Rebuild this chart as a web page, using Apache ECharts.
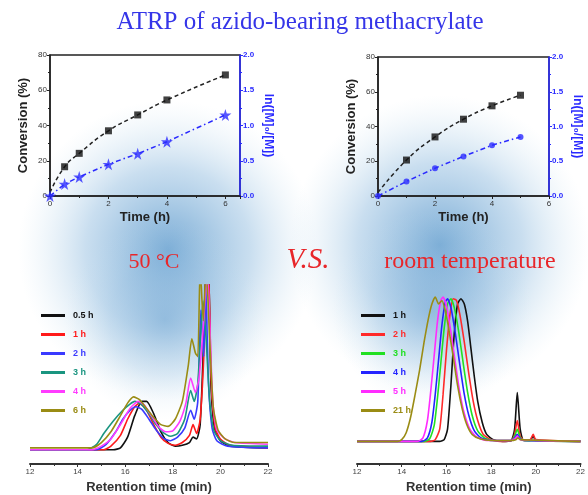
<!DOCTYPE html>
<html>
<head>
<meta charset="utf-8">
<script src="https://cdn.jsdelivr.net/npm/echarts@6/dist/echarts.min.js"></script>
<style>
  html, body { margin: 0; padding: 0; background: #fff; }
  #main { width: 588px; height: 495px; }
</style>
</head>
<body>
<div id="main"></div>
<script>
// kinetics, 50 C
const hotTime = [0.5, 1, 2, 3, 4, 6];
const hotConversion = [16.6, 24.2, 37, 46, 54.5, 68.7];
const hotLnRatio = [0.17, 0.27, 0.45, 0.6, 0.77, 1.15];
// kinetics, room temperature
const rtTime = [1, 2, 3, 4, 5];
const rtConversion = [20.7, 34, 44.2, 51.9, 58];
const rtLnRatio = [0.21, 0.4, 0.57, 0.73, 0.85];

// GPC traces, 50 C  [retention time, intensity]
const hotNames = ["0.5 h", "1 h", "2 h", "3 h", "4 h", "6 h"];
const hotColors = ["#111111", "#ff1a1a", "#3a3aff", "#1a9580", "#ff3cff", "#9a8c14"];
const hot05h = [[12,8],[15.5,8],[15.8,9],[16.1,15],[16.4,27],[16.7,35],[16.9,35],[17.2,28],[17.5,18],[17.8,12],[18.1,10],[18.4,10.5],[18.7,12],[18.85,15],[19.0,14],[19.15,22],[19.3,70],[19.4,110],[19.5,110],[19.6,45],[19.75,20],[20.0,13],[20.4,10],[22,9]];
const hot1h = [[12,8],[15.1,8],[15.4,10],[15.8,16],[16.1,25],[16.4,32],[16.6,34],[16.9,30],[17.2,22],[17.5,15],[17.8,11.5],[18.1,10.5],[18.4,12],[18.7,16],[18.85,22],[19.0,17],[19.15,25],[19.3,60],[19.42,110],[19.52,100],[19.62,45],[19.78,20],[20.0,14],[20.4,10.5],[22,9]];
const hot2h = [[12,8],[14.8,8],[15.2,11],[15.6,18],[15.9,25],[16.2,30],[16.45,32],[16.7,30.5],[17.0,25],[17.3,19],[17.6,14.5],[17.9,13],[18.2,15],[18.5,20],[18.75,30],[18.9,25],[19.05,35],[19.18,86],[19.3,60],[19.38,100],[19.5,45],[19.65,20],[19.85,13],[20.3,10],[22,9]];
const hot3h = [[12,8],[14.4,8],[14.8,11],[15.1,17],[15.5,24],[15.9,30],[16.2,33.5],[16.4,35],[16.7,33],[17.0,28],[17.3,22],[17.6,17.5],[17.9,15.5],[18.2,17],[18.5,25],[18.75,41],[18.9,35],[19.05,45],[19.27,91],[19.4,70],[19.55,35],[19.72,19],[20.0,13],[20.5,10.5],[22,10]];
const hot4h = [[12,8],[14.6,8],[15.0,10],[15.4,14],[15.8,22],[16.2,31],[16.55,35],[16.8,33],[17.1,27],[17.4,21],[17.7,18],[18.0,18.5],[18.3,24],[18.55,34],[18.75,48],[18.95,40],[19.1,48],[19.3,80],[19.45,110],[19.55,80],[19.68,35],[19.85,19],[20.2,14],[20.6,12],[22,11]];
const hot6h = [[12,9],[14.6,9],[15.0,12],[15.4,18],[15.8,27],[16.1,34],[16.35,37.5],[16.6,36],[16.9,31],[17.2,26],[17.5,22],[17.8,21],[18.1,25],[18.4,35],[18.65,55],[18.8,70],[18.95,62],[19.05,60],[19.15,110],[19.28,80],[19.4,110],[19.55,70],[19.7,32],[19.9,19],[20.2,14],[20.6,12],[22,12]];
const hotTraces = [hot05h, hot1h, hot2h, hot3h, hot4h, hot6h];

// GPC traces, room temperature
const rtNames = ["1 h", "2 h", "3 h", "4 h", "5 h", "21 h"];
const rtColors = ["#111111", "#ff2a2a", "#22e022", "#2424ff", "#ff2cff", "#9a8c14"];
const rt1h = [[12,13],[15.7,13],[15.9,14],[16.05,20],[16.2,45],[16.35,75],[16.5,92],[16.65,95],[16.8,92],[16.95,82],[17.1,66],[17.25,50],[17.4,36],[17.6,24],[17.8,17],[18.1,14],[18.5,13],[18.9,13.5],[19.05,20],[19.17,41],[19.3,20],[19.45,13.5],[19.75,13.5],[19.88,16],[20.0,13.5],[22,13]];
const rt2h = [[12,13],[15.3,13],[15.5,14],[15.7,20],[15.85,40],[16.0,65],[16.15,85],[16.3,95],[16.45,94],[16.6,86],[16.8,70],[17.0,52],[17.2,36],[17.4,25],[17.65,17],[18.0,14],[18.4,13],[18.9,13.5],[19.05,17],[19.17,25],[19.3,16],[19.5,13.5],[19.75,14],[19.88,17],[20.0,14],[22,13]];
const rt3h = [[12,13],[15.0,13],[15.25,14.5],[15.45,22],[15.6,38],[15.75,58],[15.9,78],[16.05,92],[16.2,95],[16.35,90],[16.55,76],[16.75,58],[16.95,41],[17.15,28],[17.4,19],[17.7,15],[18.1,13.5],[18.9,13.5],[19.05,16],[19.17,20],[19.3,15],[19.5,13.5],[22,13]];
const rt4h = [[12,13],[14.9,13],[15.15,15],[15.35,24],[15.5,40],[15.65,60],[15.8,80],[15.95,93],[16.05,95],[16.2,90],[16.4,75],[16.6,57],[16.8,40],[17.0,28],[17.25,19],[17.55,15],[18.0,13.5],[18.9,13.5],[19.05,15],[19.17,17],[19.3,14.5],[19.5,13.5],[22,13]];
const rt5h = [[12,13],[14.7,13],[14.95,15],[15.15,25],[15.3,42],[15.45,62],[15.6,82],[15.75,94],[15.85,96],[16.0,91],[16.2,76],[16.4,58],[16.6,41],[16.8,29],[17.05,20],[17.35,15.5],[17.8,13.5],[18.9,13.5],[19.05,14.5],[19.17,16],[19.3,14],[22,13]];
const rt21h = [[12,13],[13.8,13],[14.0,14],[14.2,18],[14.4,27],[14.6,40],[14.8,54],[15.0,70],[15.2,84],[15.35,92],[15.5,96],[15.65,92],[15.8,94],[15.95,88],[16.1,78],[16.3,62],[16.5,45],[16.7,32],[16.9,23],[17.15,17],[17.5,14.5],[18.0,13.5],[18.9,13.5],[19.1,14],[19.2,15],[19.3,14],[22,13]];
const rtTraces = [rt1h, rt2h, rt3h, rt4h, rt5h, rt21h];

const starPath = "path://M50,0 L61,35 L98,35 L68,57 L79,91 L50,70 L21,91 L32,57 L2,35 L39,35 Z";
const inkBlue = "#2a2aff";

const chart = echarts.init(document.getElementById("main"));

function glow(cx, cy, w, h, a) {
  return {
    type: "rect", z: -10, silent: true,
    shape: { x: cx - w / 2, y: cy - h / 2, width: w, height: h },
    style: {
      fill: {
        type: "radial", x: 0.5, y: 0.5, r: 0.5,
        colorStops: [
          { offset: 0, color: "rgba(95,155,205," + a + ")" },
          { offset: 0.55, color: "rgba(140,185,222," + a * 0.55 + ")" },
          { offset: 1, color: "rgba(200,225,240,0)" }
        ]
      }
    }
  };
}

function label(text, x, y, font, color) {
  return {
    type: "text", z: 10, x: x, y: y,
    style: { text: text, font: font, fill: color, align: "center", verticalAlign: "middle", textAlign: "center", textVerticalAlign: "middle" }
  };
}

// kinetic plot axes
function timeAxis(gridIndex, max) {
  return {
    type: "value", gridIndex: gridIndex, min: 0, max: max, interval: 2,
    name: "Time (h)", nameLocation: "middle", nameGap: 15,
    nameTextStyle: { fontSize: 13, fontWeight: "bold", color: "#222", fontFamily: "Liberation Sans" },
    axisLine: { lineStyle: { color: "#222", width: 1.5 } },
    axisTick: { length: 3, lineStyle: { color: "#222" } },
    minorTick: { show: true, splitNumber: 2, length: 2, lineStyle: { color: "#222" } },
    axisLabel: { fontSize: 8, color: "#333", margin: 4, formatter: v => (v % 2 === 0 ? v : "") },
    splitLine: { show: false }
  };
}
function convAxis(gridIndex) {
  return {
    type: "value", gridIndex: gridIndex, position: "left", min: 0, max: 80, interval: 20,
    name: "Conversion (%)", nameLocation: "middle", nameGap: 20, nameRotate: 90,
    nameTextStyle: { fontSize: 13, fontWeight: "bold", color: "#222", fontFamily: "Liberation Sans" },
    axisLine: { show: true, lineStyle: { color: "#222", width: 1.5 } },
    axisTick: { show: true, length: 3, lineStyle: { color: "#222" } },
    minorTick: { show: true, splitNumber: 2, length: 2, lineStyle: { color: "#222" } },
    axisLabel: { fontSize: 8, color: "#333", margin: 3 },
    splitLine: { show: false }
  };
}
function lnAxis(gridIndex) {
  return {
    type: "value", gridIndex: gridIndex, position: "right", min: 0, max: 2, interval: 0.5,
    name: "ln([M]\u2080/[M])", nameLocation: "middle", nameGap: 22, nameRotate: -90,
    nameTextStyle: { fontSize: 12, fontWeight: "bold", color: inkBlue, fontFamily: "Liberation Sans" },
    axisLine: { show: true, lineStyle: { color: inkBlue, width: 1.5 } },
    axisTick: { show: true, length: 3, lineStyle: { color: inkBlue } },
    minorTick: { show: true, splitNumber: 2, length: 2, lineStyle: { color: inkBlue } },
    axisLabel: { fontSize: 8, fontWeight: "bold", color: inkBlue, margin: 3, formatter: v => v.toFixed(1) },
    splitLine: { show: false }
  };
}
function gpcAxis(gridIndex) {
  return {
    type: "value", gridIndex: gridIndex, min: 12, max: 22, interval: 2,
    name: "Retention time (min)", nameLocation: "middle", nameGap: 17,
    nameTextStyle: { fontSize: 13, fontWeight: "bold", color: "#333", fontFamily: "Liberation Sans" },
    axisLine: { lineStyle: { color: "#333", width: 2 } },
    axisTick: { length: 3, lineStyle: { color: "#333" } },
    minorTick: { show: true, splitNumber: 2, length: 2, lineStyle: { color: "#333" } },
    axisLabel: { fontSize: 8, color: "#444", margin: 4 },
    splitLine: { show: false }
  };
}
function hiddenY(gridIndex) {
  return { type: "value", gridIndex: gridIndex, min: 0, max: 100, show: false, splitLine: { show: false } };
}

function kineticSeries(times, conv, ln, xi, yl, yr, blueSymbol, blueSize) {
  return [
    {
      type: "line", xAxisIndex: xi, yAxisIndex: yl, smooth: true, symbol: "none",
      data: [[0, 2]].concat(times.map((t, i) => [t, conv[i]])),
      lineStyle: { color: "#222", width: 1.5, type: [4, 3] }, z: 3
    },
    {
      type: "scatter", xAxisIndex: xi, yAxisIndex: yl, symbol: "rect", symbolSize: 7,
      data: times.map((t, i) => [t, conv[i]]), itemStyle: { color: "#111" }, z: 4
    },
    {
      type: "line", xAxisIndex: xi, yAxisIndex: yr, symbol: "none",
      data: [[0, 0]].concat(times.map((t, i) => [t, ln[i]])),
      lineStyle: { color: inkBlue, width: 1.5, type: [5, 3, 1.5, 3] }, z: 3
    },
    {
      type: "scatter", xAxisIndex: xi, yAxisIndex: yr, symbol: blueSymbol, symbolSize: blueSize,
      data: [[0, 0]].concat(times.map((t, i) => [t, ln[i]])), itemStyle: { color: inkBlue }, z: 4
    }
  ];
}

function gpcSeries(prefix, names, colors, traces, xi, yi) {
  return traces.map((tr, i) => ({
    name: prefix + names[i], type: "line", xAxisIndex: xi, yAxisIndex: yi,
    smooth: 0.2, symbol: "none", clip: true, data: tr,
    itemStyle: { color: colors[i] }, lineStyle: { color: colors[i], width: 1.6 }
  }));
}

function gpcLegend(prefix, names, colors, left, top) {
  return {
    orient: "vertical", left: left, top: top, icon: "rect", itemWidth: 24, itemHeight: 3, itemGap: 8,
    formatter: n => n.slice(prefix.length),
    textStyle: { fontSize: 9, fontWeight: "bold", fontFamily: "Liberation Sans", lineHeight: 11, padding: [0, 0, 0, 3] },
    data: names.map((n, i) => ({ name: prefix + n, textStyle: { color: colors[i] } })),
    selectedMode: false
  };
}

const option = {
  animation: false,
  backgroundColor: "#fff",
  graphic: [
    glow(168, 250, 300, 440, 0.85),
    glow(165, 320, 220, 200, 0.45),
    glow(440, 245, 300, 430, 0.85),
    glow(432, 310, 200, 200, 0.45),
    label("ATRP of azido-bearing methacrylate", 300, 22, "25px 'Liberation Serif'", "#3535e8"),
    label("50 \u00b0C", 154, 262, "22px 'Liberation Serif'", "#e8262a"),
    label("V.S.", 308, 260, "italic 29px 'Liberation Serif'", "#e8262a"),
    label("room temperature", 470, 262, "24px 'Liberation Serif'", "#e8262a")
  ],
  grid: [
    { left: 50, right: 348, top: 55, bottom: 299, show: true, borderColor: "#222", borderWidth: 1.5 },
    { left: 378, right: 39, top: 57, bottom: 299, show: true, borderColor: "#222", borderWidth: 1.5 },
    { left: 30, right: 320, top: 285, bottom: 31 },
    { left: 357, right: 5, top: 290, bottom: 28 }
  ],
  xAxis: [timeAxis(0, 6.5), timeAxis(1, 6), gpcAxis(2), gpcAxis(3)],
  yAxis: [convAxis(0), lnAxis(0), convAxis(1), lnAxis(1), hiddenY(2), hiddenY(3)],
  legend: [
    gpcLegend("L:", hotNames, hotColors, 36, 305),
    gpcLegend("R:", rtNames, rtColors, 356, 305)
  ],
  series: [].concat(
    kineticSeries(hotTime, hotConversion, hotLnRatio, 0, 0, 1, starPath, 12),
    kineticSeries(rtTime, rtConversion, rtLnRatio, 1, 2, 3, "circle", 6),
    gpcSeries("L:", hotNames, hotColors, hotTraces, 2, 4),
    gpcSeries("R:", rtNames, rtColors, rtTraces, 3, 5)
  )
};

chart.setOption(option);
</script>
</body>
</html>
